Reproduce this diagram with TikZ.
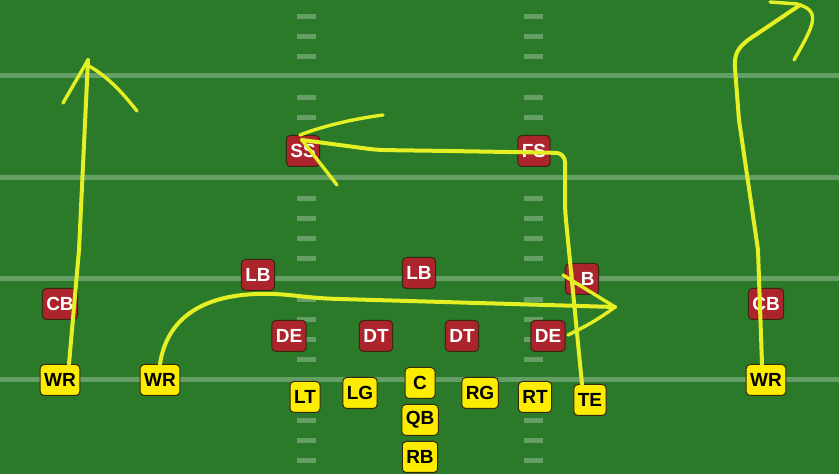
\documentclass[tikz,border=0pt]{standalone}
\usepackage{fontspec}
\setmainfont{Liberation Sans}
\begin{document}
\begin{tikzpicture}[x=1pt,y=1pt,
  offense/.style={draw=edgeColor,line width=1pt,fill=offColor,text=black,rounded corners=4pt,
    minimum width=30pt,minimum height=31pt,inner xsep=4pt,inner ysep=0pt,
    font=\fontsize{19}{19}\selectfont\bfseries},
  defense/.style={offense,fill=defColor,text=white},
  route/.style={draw=routeColor,line width=4pt,line cap=round,line join=round},
  barb/.style={route,line width=3.4pt}]
\definecolor{fieldColor}{RGB}{42,122,42}
\definecolor{lineColor}{RGB}{255,255,255}
\definecolor{offColor}{RGB}{252,236,0}
\definecolor{defColor}{RGB}{172,36,44}
\definecolor{edgeColor}{RGB}{55,40,15}
\definecolor{routeColor}{RGB}{228,240,36}
\path[use as bounding box,fill=fieldColor] (0,0) rectangle (839,474);

% yard lines
\foreach \y in {94,195,296,398}
  \path[fill=lineColor,fill opacity=0.28] (0,\y-2.5) rectangle (839,\y+2.5);

% hash marks
\foreach \k in {-4,...,18}{
  \pgfmathtruncatemacro{\r}{mod(\k+20,5)}
  \ifnum\r>0
    \path[fill=lineColor,fill opacity=0.28] (297,94+20.2*\k-2.5) rectangle (316,94+20.2*\k+2.5);
    \path[fill=lineColor,fill opacity=0.28] (524,94+20.2*\k-2.5) rectangle (543,94+20.2*\k+2.5);
  \fi
}

% defense
\node[defense] (cbL) at ( 60,170) {CB};
\node[defense] (lbL) at (258,199) {LB};
\node[defense] (lbM) at (419,201) {LB};
\node[defense] (lbR) at (582,195) {LB};
\node[defense] (deL) at (289,138) {DE};
\node[defense] (dtL) at (376,138) {DT};
\node[defense] (dtR) at (462,138) {DT};
\node[defense] (deR) at (548,138) {DE};
\node[defense] (cbR) at (766,170) {CB};
\node[defense] (ss)  at (303,323) {SS};
\node[defense] (fs)  at (534,323) {FS};

% offense
\node[offense] (wrL) at ( 60, 94) {WR};
\node[offense] (wrS) at (160, 94) {WR};
\node[offense] (lt)  at (305, 77) {LT};
\node[offense] (lg)  at (360, 81) {LG};
\node[offense] (c)   at (420, 91) {C};
\node[offense] (qb)  at (420, 54) {QB};
\node[offense] (rb)  at (420, 17) {RB};
\node[offense] (rg)  at (480, 81) {RG};
\node[offense] (rt)  at (535, 77) {RT};
\node[offense] (te)  at (590, 74) {TE};
\node[offense] (wrR) at (766, 94) {WR};

% route ends
\coordinate (tipGo)   at ( 88,414);
\coordinate (tipDrag) at (615,167);
\coordinate (tipPost) at (302,334);
\coordinate (tipFade) at (800,469);

% go route
\draw[route] ([xshift=9pt]wrL.north) -- (79,224) -- (tipGo);
\draw[barb] (63,371) -- (tipGo);
\draw[barb] (89,408) .. controls (110,396) and (125,378) .. (137,363);

% drag route
\draw[route] (wrS.north) .. controls (166,150) and (195,178) .. (257,180)
  .. controls (290,181) and (300,176) .. (340,175) -- (tipDrag);
\draw[barb] (563,199) -- (tipDrag);
\draw[barb] (tipDrag) .. controls (595,152) and (580,145) .. (568,139);

% corner route
\draw[route,rounded corners=9pt] ([xshift=-8pt]te.north) -- (565,264) -- (565,321)
  -- (450,323) -- (377,324) -- (tipPost);
\draw[barb] (300,339) .. controls (315,345) and (345,354) .. (383,359);
\draw[barb] (tipPost) -- (337,289);

% fade route
\draw[route] ([xshift=-4pt]wrR.north) -- (758,224) -- (739,354) -- (735,406)
  .. controls (734,420) and (738,426) .. (748,434) -- (tipFade);
\draw[barb] (770,472) -- (798,470);
\draw[barb] (tipFade) .. controls (822,462) and (812,446) .. (794,414);
\end{tikzpicture}
\end{document}
